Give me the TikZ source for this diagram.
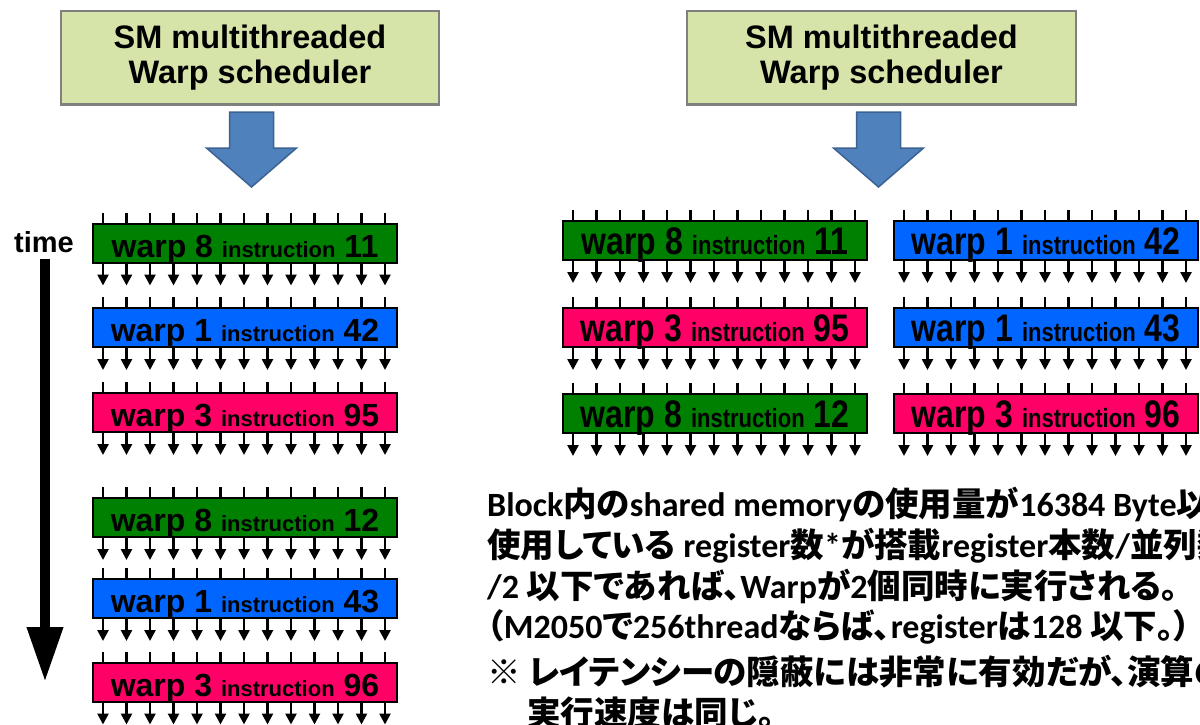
\documentclass[tikz,border=0pt]{standalone}
\usepackage{fontspec}
\usepackage{graphicx}
\setmainfont{Liberation Sans}
\newfontfamily\jpfont[RawFeature=+palt]{Noto Sans CJK JP}
\newfontfamily\latfont{Carlito}
\usetikzlibrary{arrows.meta}
\definecolor{warpgreen}{HTML}{008000}
\definecolor{warpblue}{HTML}{0066FF}
\definecolor{warppink}{HTML}{FF0066}
\definecolor{schedfill}{HTML}{D7E4A9}
\definecolor{schedline}{HTML}{808080}
\definecolor{bigarrow}{HTML}{4F81BD}
\definecolor{bigarrowline}{HTML}{3B6290}
\tikzset{
  warpbox/.style={draw, line width=2pt, minimum width=304pt, minimum height=39pt,
    inner sep=0pt, text height=28pt, text depth=0pt, font=\bfseries},
  schedbox/.style={draw=schedline, fill=schedfill, line width=2.5pt, minimum height=93.5pt,
    align=center, font=\fontsize{32.5}{35}\selectfont\bfseries},
  blockarrow/.style={fill=bigarrow, draw=bigarrowline, line width=1.5pt, line join=miter},
  pintick/.style={line width=2.5pt},
  pinout/.style={line width=2.5pt, -{Triangle[width=11pt,length=11pt]}},
  timearrow/.style={line width=10pt, -{Triangle[width=34pt,length=55pt]}},
  jptext/.style={anchor=base west, inner sep=0pt, font=\jpfont\bfseries\fontsize{33.5}{33.5}\selectfont},
}
\newcommand{\warptext}[2]{\fontsize{32}{32}\selectfont warp #1 {\fontsize{22}{22}\selectfont instruction} #2}
\newcommand{\latn}[1]{{\latfont\fontsize{34}{34}\selectfont#1}}
\begin{document}
\begin{tikzpicture}[x=1pt,y=-1pt]
\clip (0,0) rectangle (1200,724);
% schedulers
\node[schedbox, minimum width=378pt] (S1) at (250,57.5) {SM multithreaded\\Warp scheduler};
\node[schedbox, minimum width=389pt] (S2) at (881.5,57.5) {SM multithreaded\\Warp scheduler};
\foreach \ax in {251.5,878.5}
  \draw[blockarrow, shift={(\ax,0)}] (-22,112) -- (22,112) -- (22,148) -- (45,148)
    -- (0,187) -- (-45,148) -- (-22,148) -- cycle;
% time axis
\node[anchor=base, inner sep=0pt, font=\fontsize{29}{29}\selectfont\bfseries] (time) at (44,252) {time};
\coordinate (timetop) at (45,259);
\coordinate (timetip) at (45,682);
\draw[timearrow] (timetop) -- (timetip);
% warps
\foreach \name/\x/\y/\c/\w/\i/\s in {L1/245/243/warpgreen/8/11/1, L2/245/327.5/warpblue/1/42/1,
    L3/245/412.5/warppink/3/95/1, L4/245/517.5/warpgreen/8/12/1, L5/245/598.5/warpblue/1/43/1,
    L6/245/682/warppink/3/96/1, R1/715/240.5/warpgreen/8/11/1.2, R2/715/327.5/warppink/3/95/1.2,
    R3/715/413.5/warpgreen/8/12/1.2, R4/1046/240.5/warpblue/1/42/1.2, R5/1046/327.5/warpblue/1/43/1.2,
    R6/1046/413.5/warppink/3/96/1.2}{
  \node[warpbox, fill=\c] (\name) at (\x,\y) {\scalebox{1}[\s]{\warptext{\w}{\i}}};
  \foreach \k in {-6,...,6}{
    \draw[pintick] ([xshift={\k*23.5pt-1pt}]\name.north) -- ++(0,-10);
    \draw[pinout] ([xshift={\k*23.5pt-1pt}]\name.south) -- ++(0,22);
  }
}
% notes
\foreach \x/\y/\t [count=\j] in {487/516/{\latn{Block}内の\latn{shared memory}の使用量が\latn{16384 Byte}以},
    487/557/{使用している \latn{register}数\latn{*}が搭載\latn{register}本数\latn{/}並列数},
    487/598/{\latn{/2} 以下であれば、\latn{Warp}が\latn{2}個同時に実行される。},
    487/638/{（\latn{M2050}で\latn{256thread}ならば、\latn{register}は\latn{128} 以下。）},
    487/684/{※ レイテンシーの隠蔽には非常に有効だが、演算の},
    527/725/{実行速度は同じ。}}
  \node[jptext] (note\j) at (\x,\y) {\t};
\end{tikzpicture}
\end{document}
